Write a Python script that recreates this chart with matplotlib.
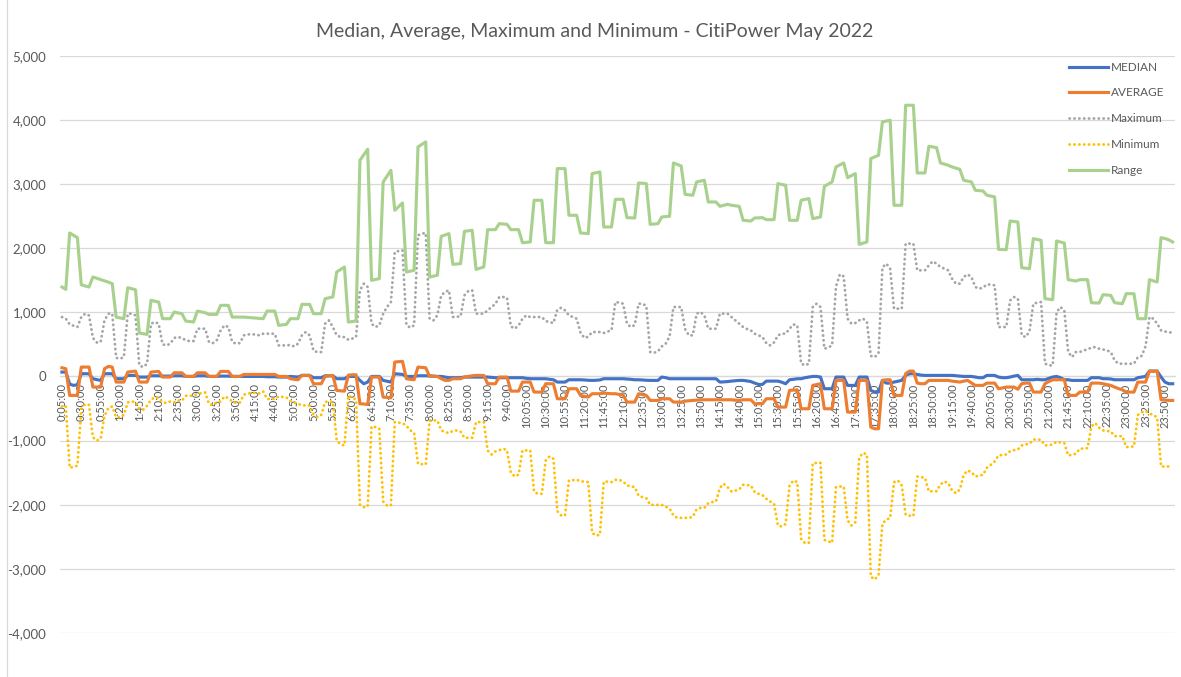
import matplotlib
matplotlib.use("Agg")
import matplotlib.pyplot as plt
from matplotlib.lines import Line2D
import pandas as pd

plt.rcParams['font.family'] = ['Lato', 'DejaVu Sans']

# ---------------- data (5-minute intervals, 0:05 .. 24:00) ----------------
times = pd.date_range("2022-05-01 00:05", periods=288, freq="5min")
categories = [f"{t.hour}:{t.minute:02d}:00" for t in times]

range_vals = [1394, 1357,
 2236, 2200, 2163, 1430, 1410, 1394, 1550, 1530, 1510, 1490, 1470, 1446,
 925, 912, 900, 1383, 1368, 1352, 676, 665, 655, 1186, 1173, 1160,
 900, 900, 900, 1004, 990, 978, 863, 855, 848, 1019, 1006, 993,
 967, 967, 967, 1108, 1108, 1108, 925, 925, 925, 925, 920, 915,
 910, 905, 900, 1019, 1019, 1019, 796, 803, 811, 900, 900, 900,
 1123, 1123, 1123, 978, 978, 978, 1212, 1225, 1238, 1628, 1667, 1706,
 848, 855, 863, 3370, 3455, 3541, 1498, 1511, 1524, 3032, 3123, 3214,
 2590, 2647, 2704, 1628, 1641, 1654, 3578, 3617, 3656, 1550, 1563, 1576,
 2184, 2205, 2226, 1747, 1752, 1758, 2262, 2270, 2278, 1669, 1688, 1706,
 2288, 2288, 2288, 2382, 2376, 2371, 2288, 2288, 2288, 2085, 2090, 2096,
 2746, 2746, 2746, 2085, 2085, 2085, 3240, 3240, 3240, 2512, 2512, 2512,
 2236, 2231, 2226, 3162, 3175, 3188, 2330, 2330, 2330, 2761, 2761, 2761,
 2475, 2472, 2470, 3016, 3011, 3006, 2371, 2376, 2382, 2486, 2491, 2496,
 3328, 3305, 3281, 2839, 2831, 2824, 3032, 3045, 3058, 2720, 2720, 2720,
 2652, 2667, 2683, 2668, 2660, 2652, 2434, 2428, 2423, 2470, 2472, 2475,
 2444, 2444, 2444, 3006, 2993, 2980, 2434, 2434, 2434, 2746, 2759, 2772,
 2460, 2473, 2486, 2964, 2998, 3032, 3266, 3297, 3328, 3099, 3130, 3162,
 2059, 2077, 2096, 3396, 3422, 3448, 3968, 3981, 3994, 2668, 2668, 2668,
 4228, 4228, 4228, 3172, 3172, 3172, 3588, 3577, 3567, 3328, 3310, 3292,
 3266, 3247, 3229, 3058, 3045, 3032, 2902, 2896, 2891, 2824, 2811, 2798,
 1981, 1978, 1976, 2423, 2415, 2408, 1695, 1687, 1680, 2148, 2135, 2122,
 1212, 1204, 1196, 2111, 2095, 2080, 1508, 1497, 1487, 1508, 1508, 1508,
 1149, 1146, 1144, 1274, 1269, 1264, 1149, 1141, 1134, 1290, 1290, 1290,
 900, 900, 900, 1508, 1490, 1472, 2163, 2150, 2130, 2096]

maximum = [926, 900,
 811, 790, 770, 926, 978, 950, 600, 530, 536, 874, 978, 978,
 290, 276, 300, 978, 978, 952, 170, 146, 198, 822, 848, 822,
 500, 484, 510, 600, 614, 600, 562, 551, 551, 744, 744, 744,
 536, 520, 562, 718, 796, 770, 536, 510, 520, 640, 655, 655,
 655, 640, 666, 666, 666, 666, 484, 484, 484, 490, 468, 510,
 640, 692, 640, 400, 380, 380, 822, 874, 770, 640, 614, 614,
 572, 590, 614, 1342, 1446, 1394, 822, 770, 796, 978, 1082, 1160,
 1940, 1955, 1966, 800, 760, 796, 2200, 2226, 2236, 900, 874, 952,
 1264, 1316, 1342, 926, 930, 936, 1264, 1331, 1342, 978, 978, 978,
 1030, 1082, 1130, 1238, 1238, 1227, 780, 744, 796, 900, 952, 926,
 926, 926, 926, 863, 848, 832, 1040, 1071, 1030, 952, 926, 900,
 680, 600, 620, 692, 692, 692, 676, 700, 718, 1160, 1150, 1134,
 822, 770, 800, 1134, 1134, 1100, 380, 370, 390, 468, 510, 620,
 1082, 1082, 1082, 740, 640, 640, 978, 1004, 952, 744, 744, 744,
 978, 978, 978, 926, 874, 822, 770, 740, 718, 666, 640, 614,
 520, 484, 530, 640, 666, 666, 744, 811, 796, 200, 172, 198,
 1082, 1134, 1082, 432, 450, 484, 1400, 1591, 1560, 900, 822, 832,
 874, 900, 848, 320, 300, 360, 1700, 1758, 1680, 1056, 1056, 1056,
 2070, 2070, 2070, 1654, 1654, 1654, 1732, 1794, 1758, 1706, 1680, 1654,
 1524, 1446, 1446, 1550, 1591, 1550, 1394, 1368, 1383, 1435, 1430, 1420,
 770, 770, 770, 1186, 1238, 1212, 640, 614, 700, 1134, 1150, 1160,
 200, 172, 172, 1000, 1082, 1030, 380, 302, 380, 380, 406, 420,
 450, 458, 432, 420, 406, 380, 250, 198, 198, 198, 198, 198,
 300, 320, 470, 926, 900, 822, 718, 700, 690, 680]

minimum = [-468, -457,
 -1425, -1410, -1393, -504, -432, -444, -950, -1000, -974, -616, -492, -468,
 -635, -636, -600, -405, -390, -400, -506, -519, -457, -364, -325, -338,
 -400, -416, -390, -404, -376, -378, -301, -304, -297, -275, -262, -249,
 -431, -447, -405, -390, -312, -338, -389, -415, -405, -285, -265, -260,
 -255, -265, -234, -353, -353, -353, -312, -319, -327, -380, -410, -426,
 -452, -452, -452, -593, -634, -600, -400, -385, -400, -1000, -1061, -1076,
 -300, -330, -360, -2000, -2040, -2030, -780, -790, -816, -1950, -2012, -2012,
 -712, -720, -728, -770, -840, -880, -1362, -1368, -1373, -686, -686, -686,
 -840, -868, -884, -850, -842, -860, -957, -957, -957, -712, -712, -712,
 -1154, -1217, -1170, -1150, -1128, -1150, -1500, -1560, -1530, -1154, -1154, -1154,
 -1800, -1830, -1830, -1310, -1248, -1284, -2100, -2168, -2168, -1622, -1617, -1612,
 -1633, -1640, -1648, -2440, -2480, -2470, -1640, -1640, -1648, -1612, -1612, -1638,
 -1700, -1711, -1726, -1860, -1882, -1900, -2002, -2002, -2002, -2002, -2030, -2059,
 -2168, -2205, -2205, -2205, -2205, -2190, -2070, -2049, -2049, -1976, -1960, -1950,
 -1737, -1674, -1726, -1794, -1780, -1763, -1690, -1695, -1700, -1804, -1830, -1850,
 -1908, -1950, -1986, -2324, -2340, -2300, -1700, -1622, -1648, -2532, -2600, -2594,
 -1352, -1350, -1346, -2548, -2570, -2594, -1726, -1716, -1716, -2246, -2324, -2273,
 -1269, -1191, -1217, -3120, -3167, -3100, -2298, -2231, -2210, -1648, -1622, -1700,
 -2153, -2170, -2179, -1560, -1570, -1581, -1794, -1790, -1789, -1685, -1638, -1664,
 -1778, -1820, -1763, -1534, -1466, -1492, -1560, -1547, -1534, -1424, -1378, -1326,
 -1232, -1225, -1217, -1165, -1150, -1139, -1076, -1060, -1050, -983, -985, -988,
 -1076, -1070, -1061, -1019, -1030, -1040, -1232, -1220, -1206, -1128, -1123, -1118,
 -780, -728, -800, -842, -850, -858, -931, -931, -931, -1102, -1097, -1092,
 -600, -560, -540, -580, -600, -640, -1404, -1404, -1404, -1404]

average = [135, 120,
 -296, -296, -296, 146, 146, 146, -166, -166, -166, 120, 156, 146,
 -88, -88, -88, 68, 75, 83, -88, -88, -88, 68, 73, 78,
 -10, -10, -10, 57, 57, 57, 0, 0, 0, 57, 57, 57,
 0, 0, 0, 78, 78, 78, 0, 0, 0, 31, 31, 31,
 31, 31, 31, 31, 31, 31, 0, 0, 0, -36, -45, -52,
 16, 16, 16, -114, -114, -114, 0, 10, 16, -218, -225, -229,
 20, 26, 26, -426, -430, -437, -10, -10, -10, -322, -328, -333,
 224, 230, 234, -36, -45, -52, 146, 140, 135, 0, 0, 0,
 -36, -62, -62, -36, -36, -36, -10, 0, 10, 16, 16, 16,
 -114, -114, -114, -10, -10, -10, -229, -229, -229, -88, -88, -88,
 -244, -244, -244, -114, -114, -114, -348, -348, -348, -192, -192, -192,
 -296, -310, -322, -270, -270, -270, -260, -265, -270, -270, -280, -290,
 -400, -400, -400, -270, -285, -296, -374, -374, -374, -348, -348, -348,
 -400, -400, -400, -385, -380, -374, -370, -364, -364, -364, -364, -364,
 -364, -364, -364, -364, -370, -374, -364, -364, -364, -426, -426, -426,
 -348, -348, -348, -478, -478, -478, -218, -213, -208, -504, -504, -504,
 -140, -127, -114, -504, -504, -504, -62, -62, -62, -556, -556, -556,
 -62, -62, -62, -790, -816, -816, -62, -52, -52, -296, -296, -296,
 42, 83, 83, -104, -114, -114, -62, -62, -62, -62, -62, -62,
 -73, -80, -88, -73, -62, -100, -140, -140, -140, -104, -104, -104,
 -192, -180, -166, -166, -166, -200, -114, -104, -104, -244, -244, -244,
 -114, -80, -52, -52, -52, -52, -296, -296, -296, -244, -244, -244,
 -104, -104, -104, -114, -127, -140, -166, -190, -208, -244, -244, -244,
 -88, -88, -88, 83, 83, 83, -364, -370, -374, -374]

median = [68, 68,
 -120, -140, -130, 42, 42, 42, -36, -50, -62, 42, 42, 42,
 -36, -36, -36, 16, 16, 16, -10, -10, -10, 10, 10, 10,
 5, 5, 5, 10, 10, 10, 0, 0, 0, 10, 10, 10,
 0, 0, 0, 5, 5, 5, 0, 0, 0, 0, 0, 0,
 0, 0, 0, -5, -5, -5, -10, -10, -10, 0, -5, -10,
 16, 16, 16, -20, -20, -20, 10, 10, 10, -36, -36, -36,
 0, 0, 0, -62, -114, -88, 0, 0, 0, -62, -75, -88,
 42, 36, 31, 0, 0, 0, 10, 10, 10, 10, 5, 0,
 0, -10, -20, -20, -20, -20, -10, -10, -10, -10, -10, -10,
 -10, -15, -20, -20, -20, -20, -20, -20, -20, -20, -30, -36,
 -36, -36, -36, -36, -45, -52, -88, -88, -88, -52, -52, -52,
 -52, -55, -60, -62, -60, -55, -36, -36, -36, -36, -36, -36,
 -40, -45, -52, -52, -55, -60, -62, -62, -62, -10, -20, -36,
 -36, -36, -36, -36, -36, -36, -36, -36, -36, -36, -36, -36,
 -88, -85, -80, -73, -68, -62, -62, -70, -80, -104, -125, -125,
 -73, -73, -73, -73, -90, -114, -52, -45, -36, -36, -20, -10,
 0, 0, -10, -192, -192, -192, -10, -10, -10, -140, -140, -140,
 -10, -10, -10, -218, -244, -244, -62, -104, -104, -88, -75, -62,
 16, 42, 42, 31, 20, 16, 16, 16, 16, 16, 16, 16,
 16, 10, 5, 0, 0, 0, -10, -20, -20, 16, 16, 16,
 -10, -20, -20, -10, 5, 16, -52, -52, -52, -52, -45, -52,
 -52, -30, -10, 0, -20, -52, -52, -62, -62, -62, -62, -62,
 -20, -20, -20, -36, -36, -40, -52, -52, -52, -52, -52, -52,
 -20, -10, 0, 83, 83, 83, -10, -88, -114, -114]

for s in (range_vals, maximum, minimum, average, median):
    assert len(s) == len(categories), len(s)

yticks = [-4000, -3000, -2000, -1000, 0, 1000, 2000, 3000, 4000, 5000]
label_step = 5

# ---------------- drawing ----------------
W, H = 1181, 677
fig = plt.figure(figsize=(W / 100, H / 100), dpi=100)
left, right, top, bottom = 60, 1174.6, 55.7, 633
ax = fig.add_axes([left / W, 1 - bottom / H, (right - left) / W, (bottom - top) / H])

x = list(range(len(categories)))
txt = '#595959'
grid = '#D9D9D9'
dot = (0, (0.1, 1.65))

ax.plot(x, median, color='#4472C4', lw=2.25, solid_joinstyle='round', label='MEDIAN', zorder=3)
ax.plot(x, average, color='#ED7D31', lw=2.25, solid_joinstyle='round', label='AVERAGE', zorder=4)
ax.plot(x, maximum, color='#A5A5A5', lw=2.0, linestyle=dot, dash_capstyle='round', label='Maximum', zorder=5)
ax.plot(x, minimum, color='#FFC000', lw=2.0, linestyle=dot, dash_capstyle='round', label='Minimum', zorder=6)
ax.plot(x, range_vals, color='#A9D18E', lw=2.25, solid_joinstyle='round', label='Range', zorder=7)

ax.set_xlim(-0.5, len(categories) - 0.5)
ax.set_ylim(-4000, 5000)
ax.set_yticks(yticks)
ax.set_yticklabels([f"{v:,}" for v in yticks])
ax.yaxis.grid(True, color=grid, lw=0.9)
ax.set_axisbelow(True)

tick_pos = x[::label_step]
ax.set_xticks(tick_pos)
ax.set_xticklabels([categories[i] for i in tick_pos])

for side in ('top', 'right', 'left'):
    ax.spines[side].set_visible(False)
ax.spines['bottom'].set_position(('data', 0))
ax.spines['bottom'].set_color(grid)
ax.spines['bottom'].set_linewidth(0.9)
ax.spines['bottom'].set_zorder(0.5)

ax.tick_params(axis='x', length=0, pad=5, labelsize=8, labelcolor=txt, labelrotation=90)
ax.tick_params(axis='y', length=0, pad=10, labelsize=9.5, labelcolor=txt)
for lab in ax.get_xticklabels():
    lab.set_rotation(90)
    lab.set_va('top')
    lab.set_ha('center')

fig.text(595 / W, 1 - 31 / H, 'Median, Average, Maximum and Minimum - CitiPower May 2022',
         ha='center', va='center', fontsize=14, color=txt)

leg = ax.legend(loc='upper left', bbox_to_anchor=(1064 / W, 1 - 57 / H), bbox_transform=fig.transFigure,
                frameon=False, fontsize=8.5, labelcolor=txt, handlelength=3.3, handletextpad=0.3,
                labelspacing=1.25, borderaxespad=0)

fig.add_artist(Line2D([6.5 / W, 6.5 / W], [0, 1], color=grid, lw=0.9))

fig.savefig('out.png', dpi=100)
